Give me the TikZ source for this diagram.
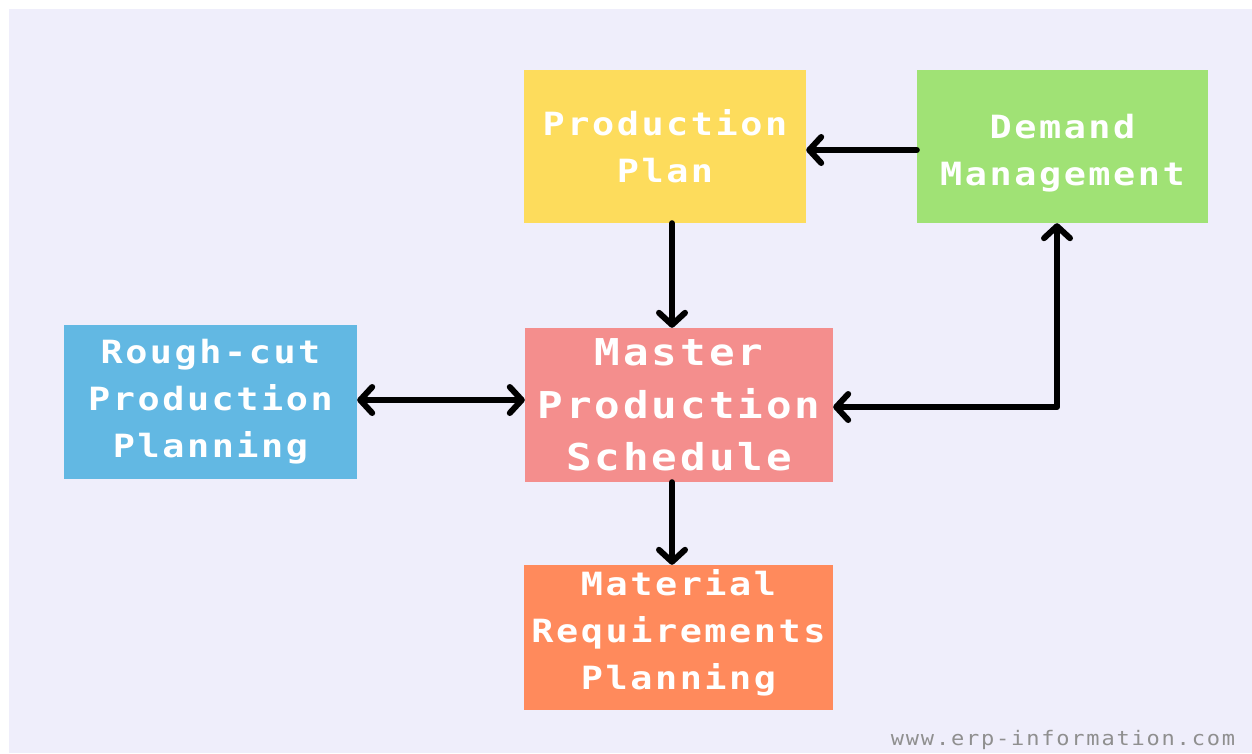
\documentclass[tikz,border=0pt]{standalone}
\usepackage{fontspec}
\usetikzlibrary{arrows.meta}
\newfontfamily\boxfont[LetterSpace=8,FakeStretch=1.15]{DejaVu Sans Mono}
\newfontfamily\markfont[LetterSpace=9,FakeStretch=1.1]{DejaVu Sans Mono}
\definecolor{bgc}{HTML}{EFEEFB}
\definecolor{ppc}{HTML}{FDDC5C}
\definecolor{dmc}{HTML}{A0E275}
\definecolor{rcc}{HTML}{62B8E3}
\definecolor{mpc}{HTML}{F48E8D}
\definecolor{mrc}{HTML}{FF8A5C}
\definecolor{wmc}{HTML}{8F8F8F}
\tikzset{
  box/.style={rectangle, inner sep=0pt, draw=none, text=white, align=center,
    font=\boxfont\bfseries\fontsize{32}{47}\selectfont},
  bigbox/.style={box, font=\boxfont\bfseries\fontsize{37}{52.5}\selectfont},
  tipb/.tip={Straight Barb[length=12pt,width=26pt,line cap=round,line join=round]},
  arr/.style={line width=6pt, line cap=round, line join=round, -tipb},
  darr/.style={arr, tipb-tipb}
}
\begin{document}
\begin{tikzpicture}[x=1pt,y=-1pt]
\fill[white] (0,0) rectangle (1252,753);
\fill[bgc] (9,9) rectangle (1252,753);
\useasboundingbox (0,0) rectangle (1252,753);

\node[box, fill=ppc, minimum width=282pt, minimum height=153pt] (pp) at (665,146.5) {Production\\Plan};
\node[box, fill=dmc, minimum width=291pt, minimum height=153pt] (dm) at (1062.5,146.5) {\rule{0pt}{38pt}Demand\\Management};
\node[box, fill=rcc, minimum width=293pt, minimum height=154pt] (rc) at (210.5,402) {Rough-cut\\Production\\Planning};
\node[bigbox, fill=mpc, minimum width=308pt, minimum height=154pt] (mps) at (679,405) {Master\\Production\\Schedule};
\node[box, fill=mrc, minimum width=309pt, minimum height=145pt] (mrp) at (678.5,637.5) {Material\\Requirements\\Planning\rule[-16pt]{0pt}{16pt}};

\node[text=wmc, font=\markfont\fontsize{20}{22}\selectfont, inner sep=0pt] (wm) at (1063,740) {www.erp-information.com};

\draw[arr] ([xshift=7pt]pp.south) -- ([xshift=-7pt]mps.north);
\draw[arr] ([yshift=-3.5pt]dm.west) -- ([yshift=-3.5pt]pp.east);
\draw[darr] ([yshift=-2pt]mps.east) -| ([xshift=-5.5pt]dm.south);
\draw[darr] ([yshift=2pt]rc.east) -- ([yshift=5pt]mps.west);
\draw[arr] ([xshift=-7pt]mps.south) -- ([xshift=-6.5pt]mrp.north);
\end{tikzpicture}
\end{document}
